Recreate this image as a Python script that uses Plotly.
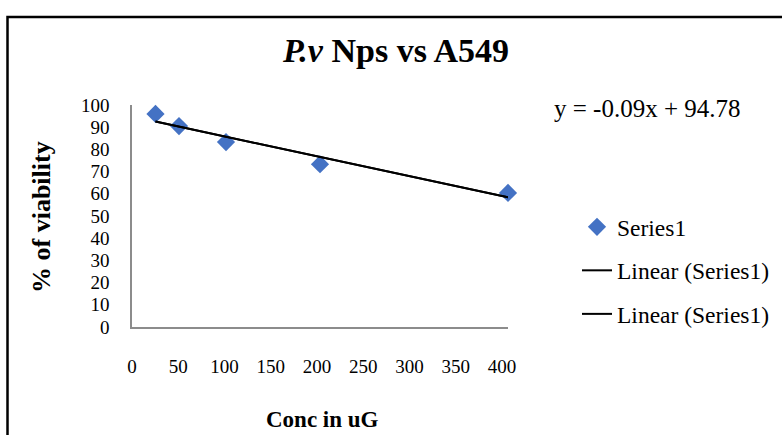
import numpy as np
import plotly.graph_objects as go

# ---- data ----
conc = [25, 50, 100, 200, 400]
viability = [96.0, 90.5, 83.3, 73.3, 60.4]
x_ticks = [0, 50, 100, 150, 200, 250, 300, 350, 400]
y_ticks = [0, 10, 20, 30, 40, 50, 60, 70, 80, 90, 100]
series_name = "Series1"
trend_name = "Linear (Series1)"
equation_text = "y = -0.09x + 94.78"

slope, intercept = np.polyfit(conc, viability, 1)
trend_x = [min(conc), max(conc)]
trend_y = [slope * v + intercept for v in trend_x]

W, H = 782, 435
L, R, T, B = 132, 274, 104.5, 107.5
pw, ph = W - L - R, H - T - B

def px(xp):
    return (xp - L) / pw

def py(yp):
    return (H - B - yp) / ph

SERIF = "Liberation Serif"

fig = go.Figure()
fig.add_trace(go.Scatter(
    x=conc, y=viability, mode="markers", name=series_name, legendgroup="a",
    marker=dict(symbol="diamond", size=14, color="#4472C4"), cliponaxis=False,
))
for g in ["b", "c"]:
    fig.add_trace(go.Scatter(
        x=trend_x, y=trend_y, mode="lines", name=trend_name, legendgroup=g,
        line=dict(color="black", width=2), cliponaxis=False,
    ))
# invisible trace on the label axis
fig.add_trace(go.Scatter(x=[0], y=[0], xaxis="x2", mode="markers",
                         marker=dict(opacity=0), showlegend=False, hoverinfo="skip"))

fig.update_layout(
    width=W, height=H,
    margin=dict(l=L, r=R, t=T, b=B, autoexpand=False),
    paper_bgcolor="white", plot_bgcolor="white",
    font=dict(family=SERIF, color="black"),
    title=dict(text="<b><i>P.v</i> Nps vs A549</b>", x=396 / W, xref="container",
               y=1 - 50 / H, yanchor="middle", xanchor="center",
               font=dict(family=SERIF, size=34, color="black")),
    xaxis=dict(range=[0, 400], showgrid=False, zeroline=False, showline=True,
               linecolor="#8c8c8c", linewidth=1.5, showticklabels=False, ticks=""),
    xaxis2=dict(range=[0, 406.5], overlaying="x", anchor="y", side="bottom",
                showgrid=False, zeroline=False, showline=False,
                tickvals=x_ticks, ticks="", ticklabelstandoff=26,
                tickfont=dict(family=SERIF, size=19, color="black")),
    yaxis=dict(range=[0, 100], showgrid=False, zeroline=False, showline=True,
               linecolor="#8c8c8c", linewidth=1.5, tickvals=y_ticks, ticks="",
               ticklabelstandoff=17,
               tickfont=dict(family=SERIF, size=19, color="black")),
    showlegend=True,
    legend=dict(xref="container", yref="container", x=577 / W, y=1 - 205 / H,
                xanchor="left", yanchor="top",
                tracegroupgap=10, itemwidth=30, bgcolor="rgba(0,0,0,0)",
                font=dict(family=SERIF, size=23.5, color="black")),
    annotations=[
        dict(text=equation_text, xref="paper", yref="paper", x=px(552), y=py(108),
             xanchor="left", yanchor="middle", showarrow=False,
             font=dict(family=SERIF, size=25, color="black")),
        dict(text="<b>Conc in uG</b>", xref="paper", yref="paper", x=px(322), y=py(420),
             xanchor="center", yanchor="middle", showarrow=False,
             font=dict(family=SERIF, size=23, color="black")),
        dict(text="<b>% of viability</b>", xref="paper", yref="paper", x=px(42), y=py(217),
             xanchor="center", yanchor="middle", showarrow=False, textangle=-90,
             font=dict(family=SERIF, size=26, color="black")),
    ],
    shapes=[
        dict(type="rect", xref="paper", yref="paper",
             x0=px(7.5), x1=px(800), y0=py(460), y1=py(16),
             line=dict(color="black", width=2.5), fillcolor="rgba(0,0,0,0)", layer="above"),
    ],
)

fig.write_html("out.html")
